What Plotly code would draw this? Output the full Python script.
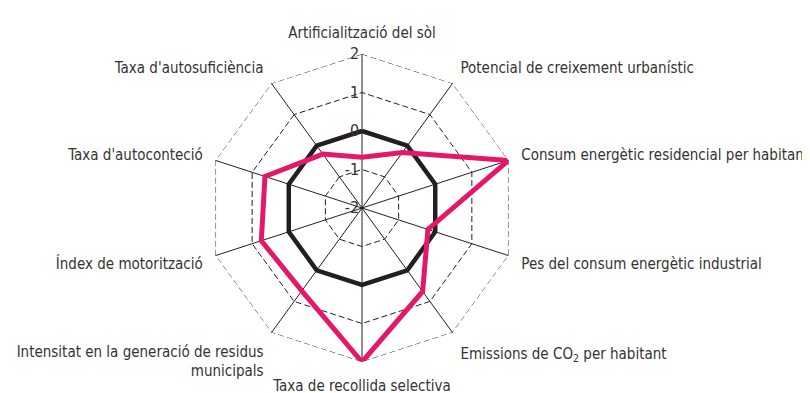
import plotly.graph_objects as go

# Radar axes, clockwise from the top
categories = [
    "Artificialització del sòl",
    "Potencial de creixement urbanístic",
    "Consum energètic residencial per habitant",
    "Pes del consum energètic industrial",
    "Emissions de CO<sub>2</sub> per habitant",
    "Taxa de recollida selectiva",
    "Intensitat en la generació de residus<br>municipals",
    "Índex de motorització",
    "Taxa d'autoconteció",
    "Taxa d'autosuficiència",
]

reference_values = [0, 0, 0, 0, 0, 0, 0, 0, 0, 0]
municipi_values = [-0.68, -0.22, 2.0, -0.2, 0.68, 2.0, 0.66, 0.75, 0.65, -0.27]

radial_ticks = [-2, -1, 0, 1, 2]

FONT = "Liberation Sans Narrow, DejaVu Sans Condensed, sans-serif"

# page body has an 8px margin, so the figure sits 8px right/down
OFF = 8
cx, cy, rad = 362 - OFF, 208 - OFF, 154
W, H = 810, 393
DASH = "6px,3px"

fig = go.Figure()

cats_closed = categories + [categories[0]]

# outer ring at the top tick (plotly skips the grid line at the range edge)
outer = [max(radial_ticks)] * len(cats_closed)
fig.add_trace(go.Scatterpolar(
    r=outer,
    theta=cats_closed,
    mode="lines",
    line=dict(color="#231f20", width=1, dash=DASH),
    hoverinfo="skip",
    showlegend=False,
))

fig.add_trace(go.Scatterpolar(
    r=reference_values + [reference_values[0]],
    theta=cats_closed,
    mode="lines",
    line=dict(color="#231f20", width=4.5),
    showlegend=False,
))
fig.add_trace(go.Scatterpolar(
    r=municipi_values + [municipi_values[0]],
    theta=cats_closed,
    mode="lines",
    line=dict(color="#e5176a", width=5),
    showlegend=False,
))

fig.update_layout(
    width=W,
    height=H,
    margin=dict(l=0, r=0, t=0, b=0),
    paper_bgcolor="white",
    plot_bgcolor="white",
    font=dict(family=FONT, size=15, color="#333333"),
    polar=dict(
        domain=dict(x=[(cx - rad) / W, (cx + rad) / W],
                    y=[(H - cy - rad) / H, (H - cy + rad) / H]),
        bgcolor="white",
        gridshape="linear",
        radialaxis=dict(
            range=[-2, 2],
            tickvals=radial_ticks,
            ticktext=[str(v) for v in radial_ticks],
            angle=90,
            tickangle=90,
            side="counterclockwise",
            showline=False,
            ticks="",
            gridcolor="#231f20",
            gridwidth=1,
            griddash=DASH,
            tickfont=dict(size=16, color="#333333"),
        ),
        angularaxis=dict(
            direction="clockwise",
            rotation=90,
            showline=False,
            gridcolor="#231f20",
            gridwidth=1,
            ticks="outside",
            ticklen=10,
            tickcolor="rgba(0,0,0,0)",
            tickfont=dict(size=15, color="#333333"),
        ),
    ),
)

fig.write_html("out.html")
